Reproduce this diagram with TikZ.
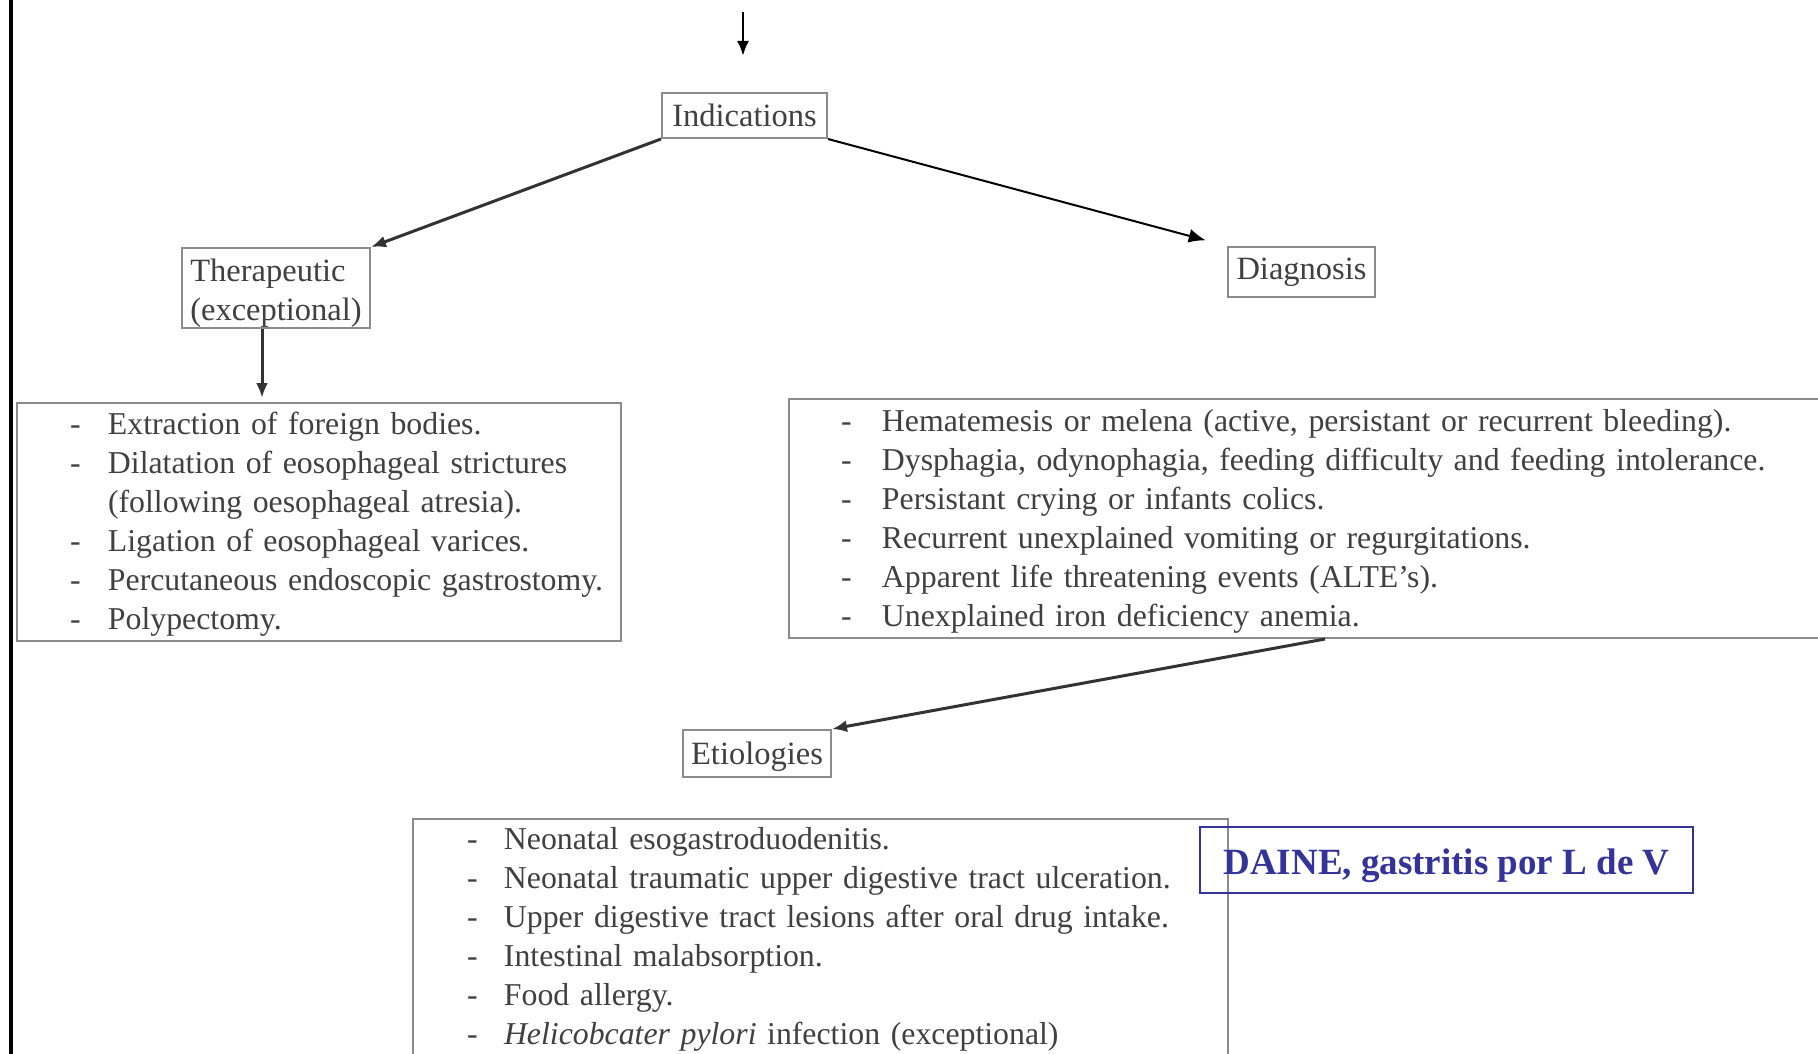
\documentclass[tikz,border=0pt]{standalone}
\usepackage{fontspec}
\setmainfont{Liberation Serif}
\usetikzlibrary{arrows.meta,calc}
\definecolor{txtgray}{HTML}{404040}
\definecolor{boxgray}{HTML}{8C8C8C}
\definecolor{daine}{HTML}{333399}
\newcommand\lfont{\fontsize{32.5}{39}\selectfont}
\newcommand\listfont{\fontsize{31.8}{39}\selectfont}
\newcommand\mylistrule[1]{\rule{0pt}{#1}}
\begin{document}
\begin{tikzpicture}[x=1pt,y=-1pt,
  sbox/.style={draw=boxgray, line width=2pt, text=txtgray, font=\lfont, inner sep=0pt},
  lstbox/.style={draw=boxgray, line width=2pt, text=txtgray, font=\listfont, inner sep=0pt,
                 anchor=north west, align=left},
  arr/.style={line width=3pt, draw=black!80, -{Latex[length=15pt,width=12pt]}},
  arrthin/.style={line width=2pt, draw=black, -{Latex[length=17pt,width=14pt]}}]
\useasboundingbox (0,0) rectangle (1818,1054);
\clip (0,0) rectangle (1818,1054);
\fill[white] (0,0) rectangle (1818,1054);
% left frame line
\draw[line width=4pt, black] (11,0) -- (11,1054);

% small boxes
\node[sbox, minimum width=165pt, minimum height=45pt] (ind) at (744.5,115.5) {Indications};
\node[sbox, minimum width=188pt, minimum height=80pt, align=left] (ther) at (276,288) {\rule{0pt}{32pt}Therapeutic\\(exceptional)};
\node[sbox, minimum width=147pt, minimum height=50pt] (diag) at (1301.5,272) {Diagnosis};
\node[sbox, minimum width=148pt, minimum height=47pt, text height=29pt, text depth=7pt] (etio) at (757,753.5) {Etiologies};

% list boxes
\node[lstbox, text width=604pt, minimum height=237pt] (lbox) at (16,402) {\noindent
\begin{tabular}{@{\hspace{53pt}}p{38pt}@{}l@{}}
\mylistrule{31.5pt}- & Extraction of foreign bodies.\\
- & Dilatation of eosophageal strictures\\
  & (following oesophageal atresia).\\
- & Ligation of eosophageal varices.\\
- & Percutaneous endoscopic gastrostomy.\\
- & Polypectomy.
\end{tabular}};

\node[lstbox, text width=1042pt, minimum height=239pt] (rbox) at (788,398) {\noindent
\begin{tabular}{@{\hspace{52pt}}p{41pt}@{}l@{}}
\mylistrule{32pt}- & Hematemesis or melena (active, persistant or recurrent bleeding).\\
- & Dysphagia, odynophagia, feeding difficulty and feeding intolerance.\\
- & Persistant crying or infants colics.\\
- & Recurrent unexplained vomiting or regurgitations.\\
- & Apparent life threatening events (ALTE's).\\
- & Unexplained iron deficiency anemia.
\end{tabular}};

\node[lstbox, text width=815pt, minimum height=235pt] (bbox) at (412,818) {\noindent
\begin{tabular}{@{\hspace{54pt}}p{37pt}@{}l@{}}
\mylistrule{30.6pt}- & Neonatal esogastroduodenitis.\\
- & Neonatal traumatic upper digestive tract ulceration.\\
- & Upper digestive tract lesions after oral drug intake.\\
- & Intestinal malabsorption.\\
- & Food allergy.\\
- & \textit{Helicobcater pylori} infection (exceptional)
\end{tabular}};

% DAINE label
\node[draw=daine, line width=2pt, minimum width=493pt, minimum height=66pt, inner sep=0pt,
      text=daine, font=\fontsize{37}{44}\selectfont\bfseries, text height=30pt, text depth=2pt]
      (daine) at (1446.5,860) {DAINE, gastritis por L de V};

% connectors
\coordinate (topstart) at (743,12);
\draw[arr, draw=black, line width=2.6pt, shorten >=36pt] (topstart) -- (topstart |- ind.north);
\draw[arr] (ind.south west) -- (ther.north east);
\draw[arrthin, shorten >=22pt] (ind.south east) -- (diag.north west);
\coordinate (tt) at ([xshift=-14pt]ther.south);
\draw[arr, shorten >=4pt] (tt) -- (tt |- lbox.north);
\coordinate (rr) at ([xshift=537pt]rbox.south west);
\draw[arr] (rr) -- (etio.north east);
\end{tikzpicture}
\end{document}
